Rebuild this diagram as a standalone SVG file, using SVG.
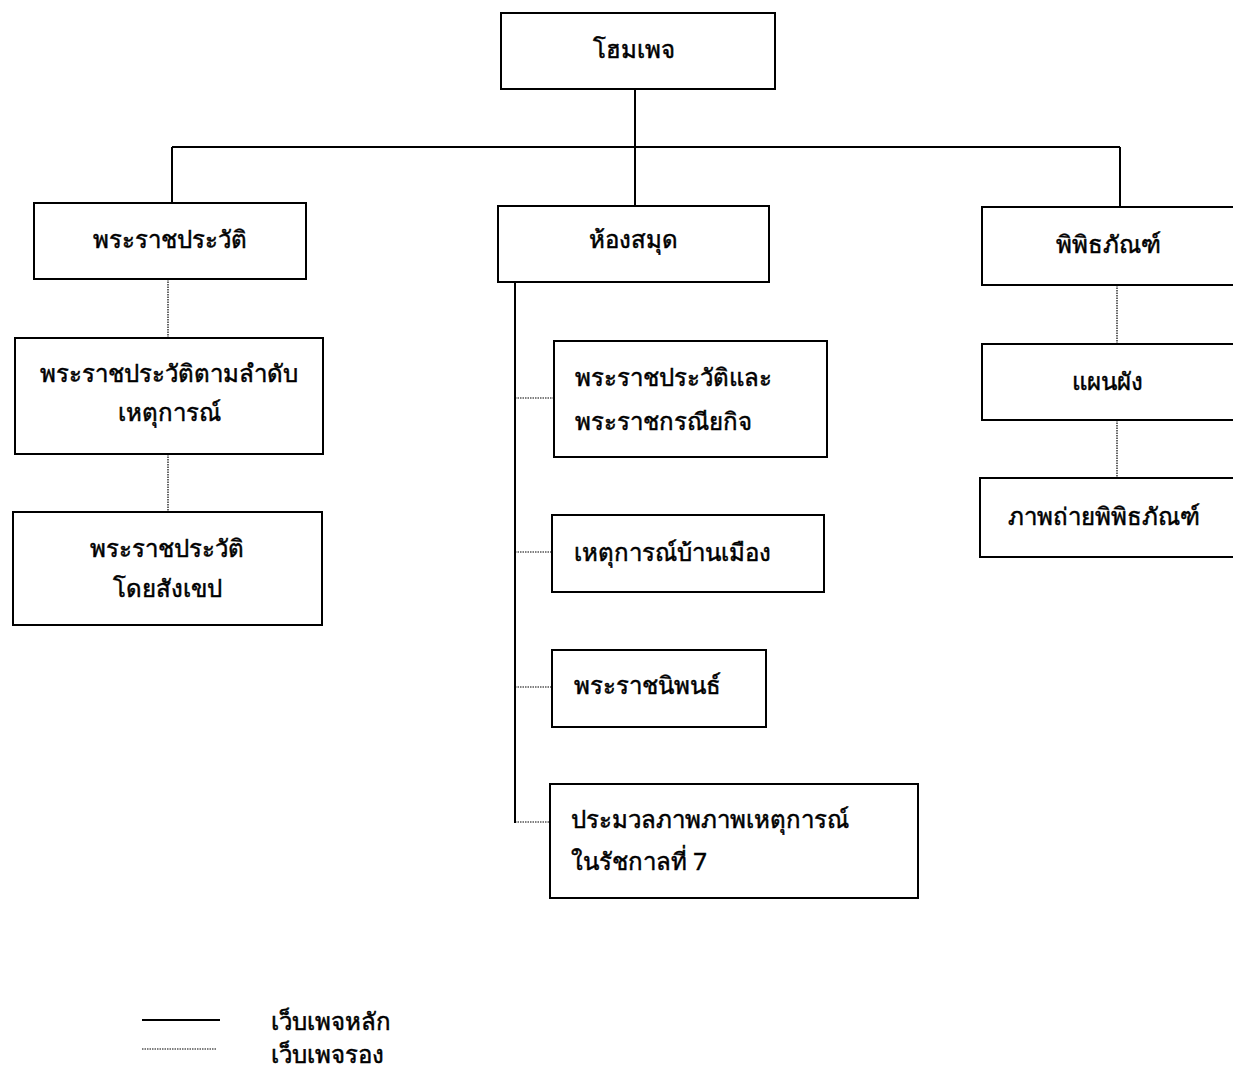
<svg xmlns="http://www.w3.org/2000/svg" width="1233" height="1076" viewBox="0 0 1233 1076">
<style>
.box{fill:#fff;stroke:#000;stroke-width:2}
.t{font-family:"Noto Sans","DejaVu Sans",sans-serif;font-size:24px;fill:#000;stroke:#000;stroke-width:0.5}
.c{text-anchor:middle}
.main{stroke:#000;stroke-width:2;fill:none}
.sub{stroke:#000;stroke-width:1.2;stroke-dasharray:1.5 1;fill:none}
</style>
<rect width="1233" height="1076" fill="#fff"/>
<g id="connectors">
<path class="main" d="M635 89V206M172 147H1120M172 147V203M1120 147V207M515 282V823"/>
<path class="sub" d="M168 279V338M168 454V512M1117 285V344M1117 420V478M515 398H554M515 552H552M515 687H552M515 822H550"/>
</g>
<g id="n-home"><rect class="box" x="501" y="13" width="274" height="76"/><text class="t c" x="634" y="58">โฮมเพจ</text></g>
<g id="n-bio"><rect class="box" x="34" y="203" width="272" height="76"/><text class="t c" x="170" y="248">พระราชประวัติ</text></g>
<g id="n-bio-time"><rect class="box" x="15" y="338" width="308" height="116"/><text class="t c" x="169" y="382">พระราชประวัติตามลำดับ</text><text class="t c" x="169" y="421">เหตุการณ์</text></g>
<g id="n-bio-brief"><rect class="box" x="13" y="512" width="309" height="113"/><text class="t c" x="167" y="557">พระราชประวัติ</text><text class="t c" x="167" y="597">โดยสังเขป</text></g>
<g id="n-lib"><rect class="box" x="498" y="206" width="271" height="76"/><text class="t c" x="633" y="248">ห้องสมุด</text></g>
<g id="n-lib-1"><rect class="box" x="554" y="341" width="273" height="116"/><text class="t" x="575" y="386">พระราชประวัติและ</text><text class="t" x="575" y="430">พระราชกรณียกิจ</text></g>
<g id="n-lib-2"><rect class="box" x="552" y="515" width="272" height="77"/><text class="t" x="574" y="561">เหตุการณ์บ้านเมือง</text></g>
<g id="n-lib-3"><rect class="box" x="552" y="650" width="214" height="77"/><text class="t" x="574" y="694">พระราชนิพนธ์</text></g>
<g id="n-lib-4"><rect class="box" x="550" y="784" width="368" height="114"/><text class="t" x="571" y="828">ประมวลภาพภาพเหตุการณ์</text><text class="t" x="571" y="870">ในรัชกาลที่ 7</text></g>
<g id="n-mus"><rect class="box" x="982" y="207" width="260" height="78"/><text class="t c" x="1108" y="253">พิพิธภัณฑ์</text></g>
<g id="n-mus-map"><rect class="box" x="982" y="344" width="260" height="76"/><text class="t c" x="1107" y="390">แผนผัง</text></g>
<g id="n-mus-photo"><rect class="box" x="980" y="478" width="262" height="79"/><text class="t c" x="1104" y="525">ภาพถ่ายพิพิธภัณฑ์</text></g>
<g id="legend">
<line class="main" x1="142" y1="1020" x2="220" y2="1020"/>
<line class="sub" x1="142" y1="1049" x2="217" y2="1049"/>
<text class="t" x="271" y="1030">เว็บเพจหลัก</text>
<text class="t" x="271" y="1063">เว็บเพจรอง</text>
</g>
</svg>
